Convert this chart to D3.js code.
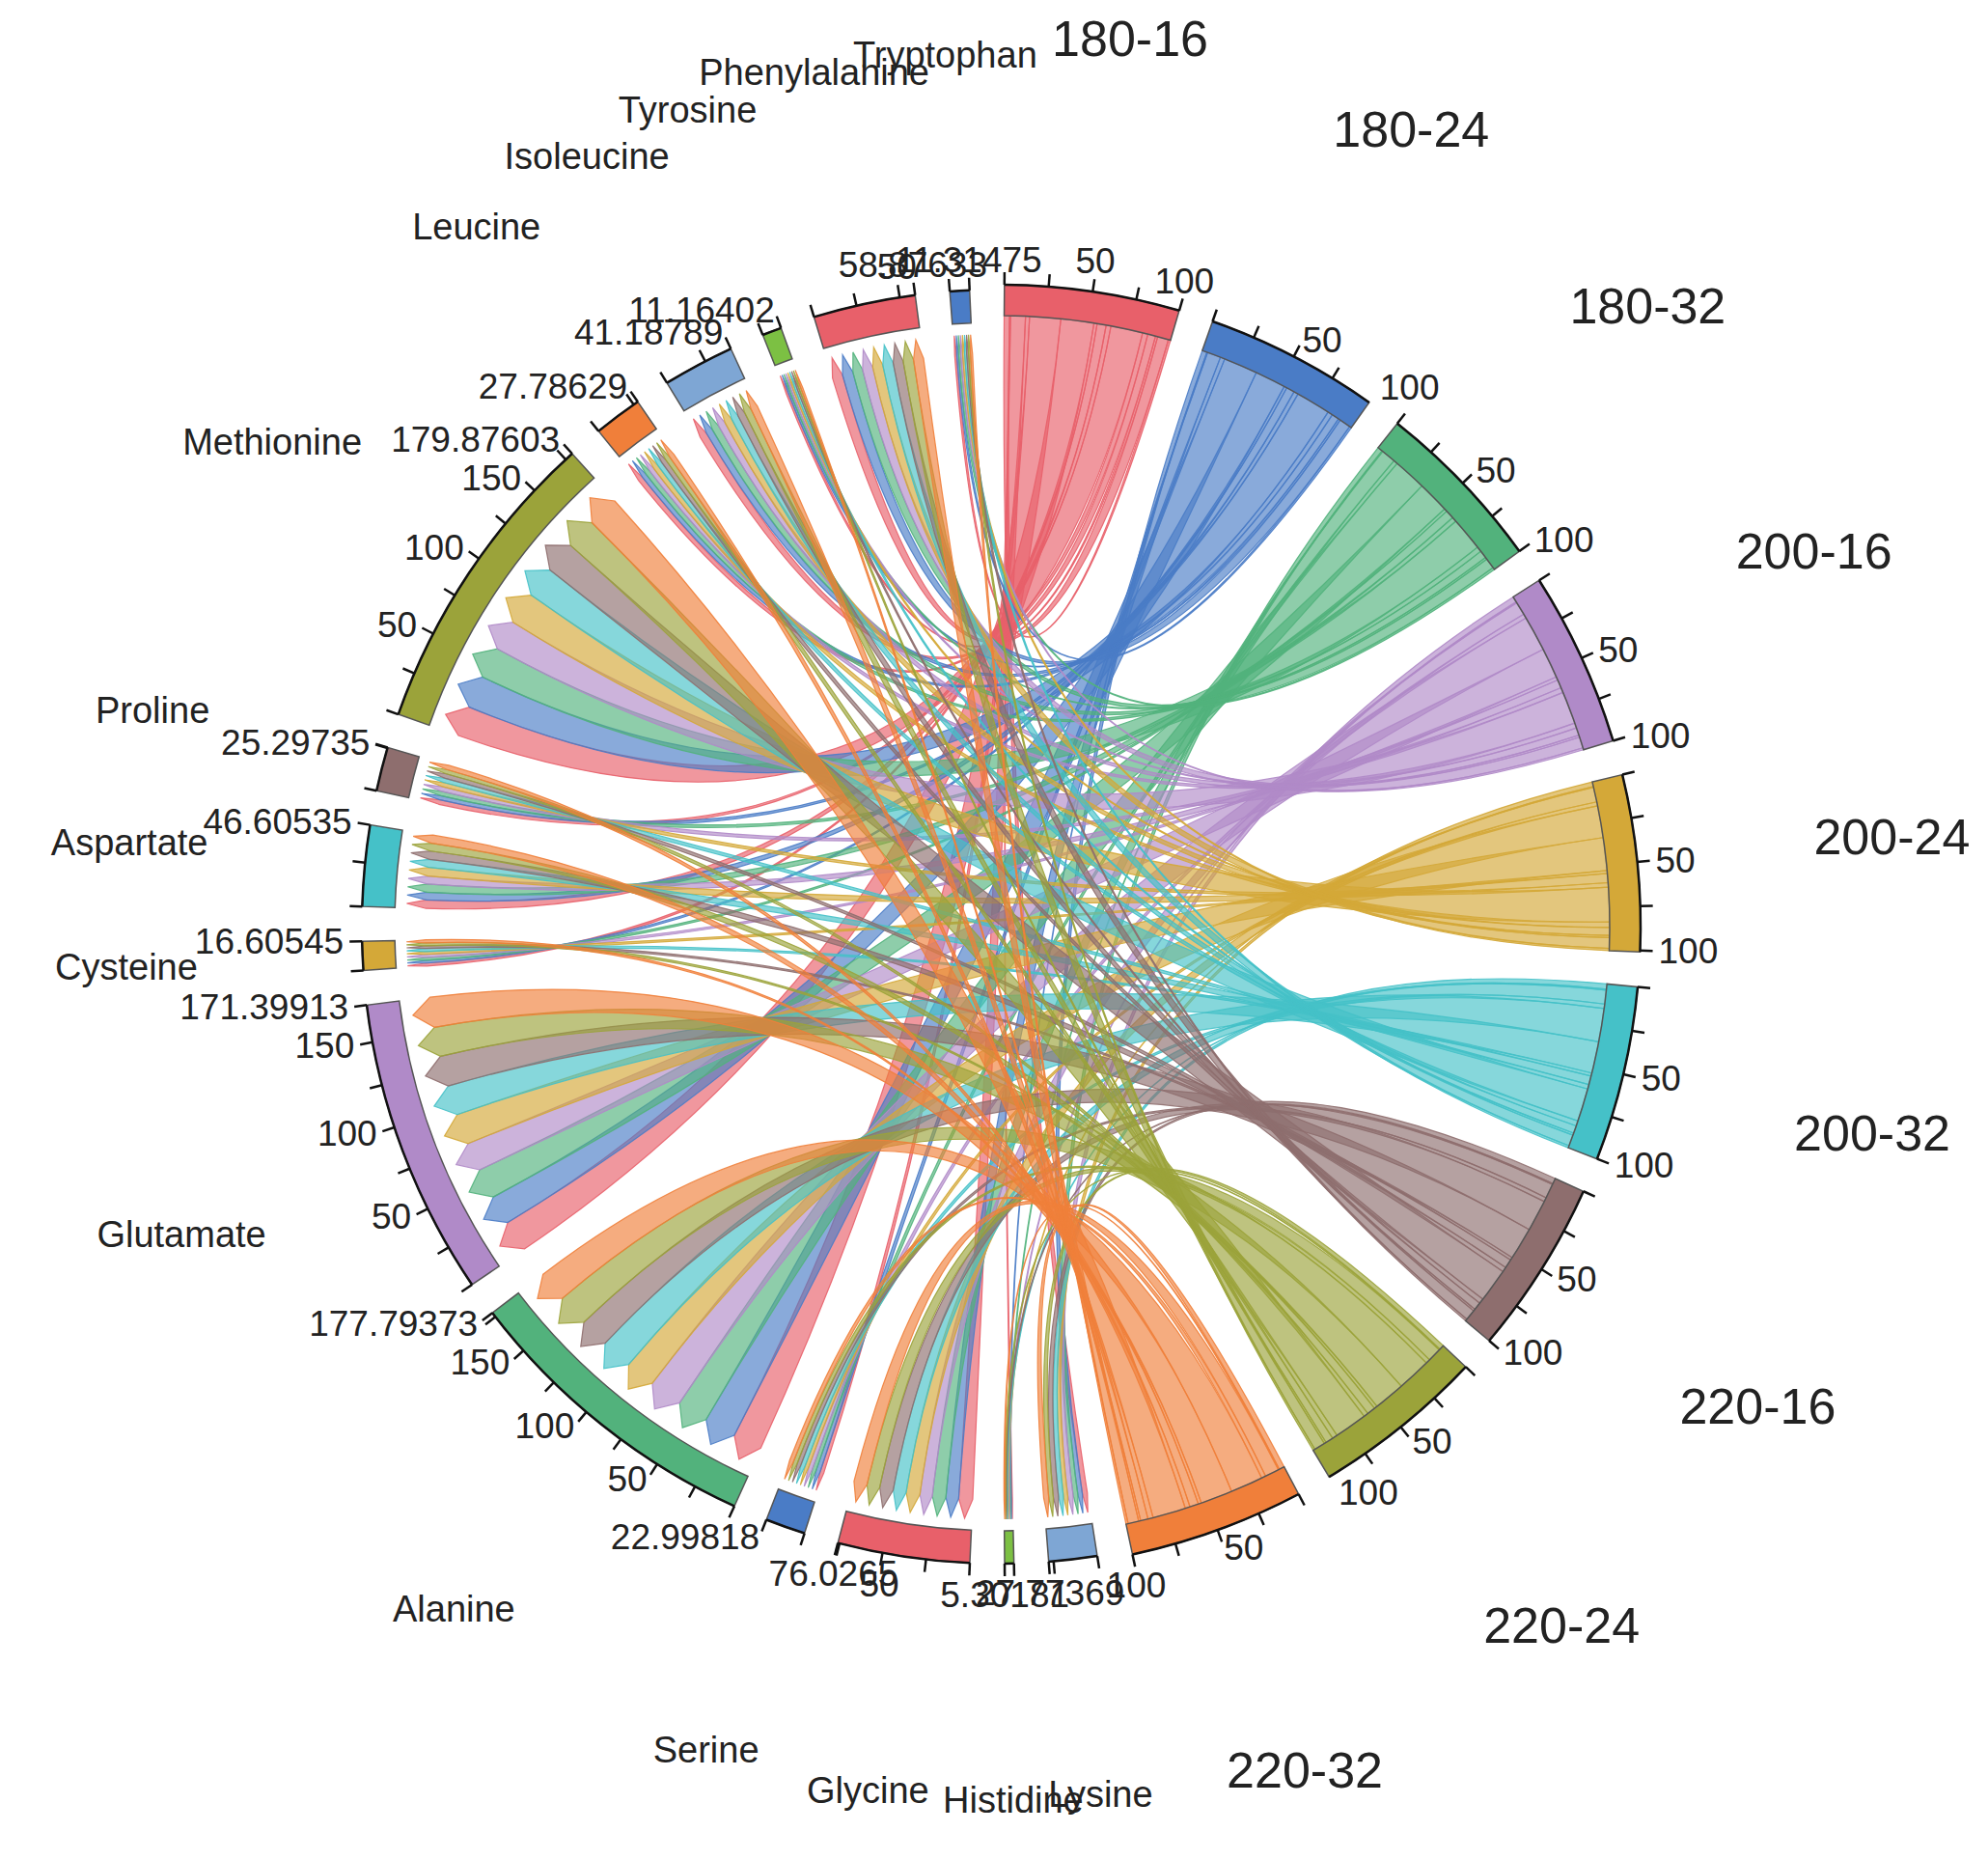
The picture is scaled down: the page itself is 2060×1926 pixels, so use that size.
<!DOCTYPE html>
<html><head><meta charset="utf-8">
<script src="https://cdn.jsdelivr.net/npm/d3@7"></script>
<style>body{margin:0;background:#fff}text{font-family:"Liberation Sans",Arial,sans-serif;fill:#222}</style>
</head><body><svg id="c" width="2060" height="1926"></svg>
<script>
const samples = ["180-16","180-24","180-32","200-16","200-24","200-32","220-16","220-24","220-32"];
const sampleColors = ["#e8606a","#4a7cc6","#52b27c","#b08ac8","#d4a838","#45c1c8","#8e6e6e","#9ba33a","#f07f3a"];
const aminos = ["Lysine","Histidine","Glycine","Serine","Alanine","Glutamate","Cysteine","Aspartate","Proline","Methionine","Leucine","Isoleucine","Tyrosine","Phenylalanine","Tryptophan"];
const aminoColors = ["#7ea6d4","#7cc043","#e8606a","#4a7cc6","#52b27c","#b08ac8","#d4a838","#45c1c8","#8e6e6e","#9ba33a","#f07f3a","#7ea6d4","#7cc043","#e8606a","#4a7cc6"];
const aminoTotals = ["27.77369","5.30181","76.0265","22.99818","177.79373","171.39913","16.60545","46.60535","25.29735","179.87603","27.78629","41.18789","11.16402","58.87633","11.31475"];
// rows: samples, columns: aminos (order above)
const values = [
 [3.2,0.6,8.9,2.4,18.6,19.8,1.9,5.4,2.9,19.2,3.2,4.7,1.3,6.6,1.3],
 [2.9,0.5,8.1,2.7,20.4,18.5,1.7,4.9,2.7,20.8,3.0,4.4,1.2,6.8,1.2],
 [3.0,0.6,8.6,2.5,19.8,19.2,1.8,5.2,2.8,20.1,3.1,4.6,1.2,6.3,1.3],
 [3.4,0.7,7.9,2.6,21.2,18.1,2.0,5.0,3.0,19.5,3.0,4.5,1.3,6.6,1.2],
 [2.8,0.5,8.8,2.4,19.1,19.6,1.8,5.5,2.7,20.6,3.2,4.8,1.2,6.5,1.3],
 [3.1,0.6,8.3,2.7,20.0,18.9,1.9,5.1,2.8,19.8,3.1,4.5,1.3,6.7,1.3],
 [3.3,0.6,8.7,2.5,18.9,19.4,1.7,5.3,2.9,20.3,3.0,4.6,1.2,6.4,1.2],
 [2.9,0.6,8.2,2.6,20.3,18.7,1.9,5.0,2.7,19.7,3.1,4.6,1.2,6.6,1.2],
 [3.2,0.6,8.5,2.6,19.5,19.2,1.9,5.2,2.9,19.9,3.1,4.5,1.2,6.4,1.3]
];
const sampleTickLabels = [50,100];
const aminoTickLabels = [50,100,150];

const cx=1035, cy=960, rot=0.5*Math.PI/180;
const sOuter=665, sInner=633, aOuter=660, aInner=626, tipR=614, headR=20, tickLen=13;
const nS=samples.length, nA=aminos.length, n=nS+nA;
const M = d3.range(n).map(()=>new Array(n).fill(0));
values.forEach((row,i)=>row.forEach((v,j)=>{M[i][nS+j]=v; M[nS+j][i]=v;}));
const chords = d3.chord().padAngle(3.13*Math.PI/180).sortSubgroups(null)(M);
const k = (chords.groups[0].endAngle-chords.groups[0].startAngle)/chords.groups[0].value;
const colorOf = i => i<nS ? sampleColors[i] : aminoColors[i-nS];
const svg = d3.select("#c");
const g = svg.append("g").attr("transform",`translate(${cx},${cy}) rotate(${rot*180/Math.PI})`);
const P = (a,r)=>[cx+r*Math.sin(a+rot), cy-r*Math.cos(a+rot)];

const ribbon = d3.ribbonArrow().sourceRadius(sInner).targetRadius(tipR).headRadius(headR);
g.append("g").selectAll("path").data(chords).join("path")
 .attr("d",ribbon).attr("fill",d=>sampleColors[d.source.index]).attr("fill-opacity",0.65)
 .attr("stroke",d=>sampleColors[d.source.index]).attr("stroke-width",1.2).attr("stroke-opacity",0.9);

chords.groups.forEach(gr=>{
  const isS = gr.index<nS, ro=isS?sOuter:aOuter, ri=isS?sInner:aInner;
  g.append("path").attr("d",d3.arc().innerRadius(ri).outerRadius(ro)(gr))
   .attr("fill",colorOf(gr.index)).attr("stroke","#555").attr("stroke-width",1.5);
  g.append("path").attr("d",d3.arc().innerRadius(ro).outerRadius(ro)(gr)).attr("fill","none").attr("stroke","#111").attr("stroke-width",2.5);
  const tickVals = d3.range(0, gr.value+0.01, 25);
  if(!isS) tickVals.push(gr.value);
  tickVals.forEach(v=>{
    const a = gr.startAngle + Math.min(v,gr.value)*k;
    const p1=P(a,ro), p2=P(a,ro+tickLen);
    svg.append("line").attr("x1",p1[0]).attr("y1",p1[1]).attr("x2",p2[0]).attr("y2",p2[1]).attr("stroke","#111").attr("stroke-width",2.5);
  });
  const labels = isS ? sampleTickLabels.map(v=>[v,String(v)]) :
     aminoTickLabels.filter(v=>v<gr.value-8).map(v=>[v,String(v)]).concat([[gr.value,aminoTotals[gr.index-nS]]]);
  labels.forEach(([v,t])=>{
    const a = gr.startAngle + Math.min(v,gr.value)*k, aa=a+rot;
    const s=Math.sin(aa), c=Math.cos(aa);
    const p=P(a,ro+tickLen+6);
    const anchor = s>0.3?"start":(s<-0.3?"end":"middle");
    const base = Math.abs(s)>0.3?"central":(c>0?"auto":"hanging");
    svg.append("text").attr("x",p[0]).attr("y",p[1]).attr("text-anchor",anchor).attr("dominant-baseline",base)
      .attr("font-size",37).text(t);
  });
  const mid=(gr.startAngle+gr.endAngle)/2;
  const lp=P(mid, isS?930:905);
  svg.append("text").attr("x",lp[0]).attr("y",lp[1]).attr("text-anchor","middle").attr("dominant-baseline","central")
    .attr("font-size",isS?52:38).text(isS?samples[gr.index]:aminos[gr.index-nS]);
});
</script></body></html>
